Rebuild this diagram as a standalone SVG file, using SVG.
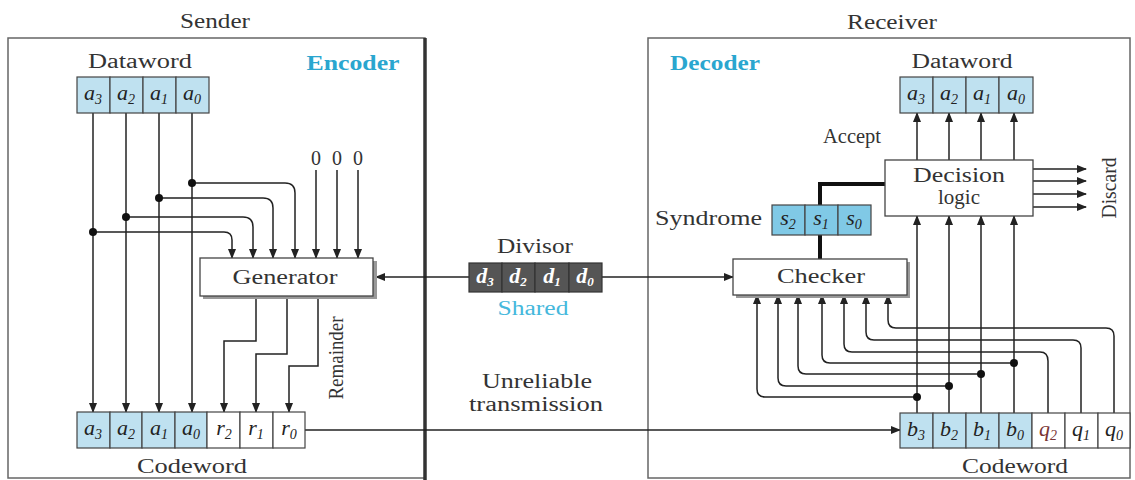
<svg xmlns="http://www.w3.org/2000/svg" width="1135" height="480" viewBox="0 0 1135 480">
<style>
text{font-family:"Liberation Serif","DejaVu Serif",serif;fill:#333;font-size:20px}
.c{text-anchor:middle}
.cy{fill:#2aa6cf;font-weight:bold}
.sh2{fill:#45b8dc}
.it{font-style:italic;font-size:22px;text-anchor:middle;fill:#222}
.sb{font-size:14px}
.wt{fill:#fff}
.cell{fill:#bfe1f0;stroke:#444;stroke-width:1.2}
.cellw{fill:#fff;stroke:#444;stroke-width:1.2}
.cells{fill:#80c9e6;stroke:#444;stroke-width:1.2}
.celld{fill:#555;stroke:#333;stroke-width:1.2}
.box{fill:#fff;stroke:#444;stroke-width:1.3}
.sh{fill:#999}
.ln{fill:none;stroke:#222;stroke-width:1.5}
.dot{fill:#111}
</style>
<defs>
<marker id="ar" markerUnits="userSpaceOnUse" markerWidth="10" markerHeight="8" refX="9" refY="4" orient="auto">
<path d="M0,0 L10,4 L0,8 Z" fill="#222"/>
</marker>
</defs>

<g id="sender-panel">
<rect x="8" y="38" width="417" height="440" fill="none" stroke="#666" stroke-width="1.5"/>
<line x1="425" y1="38" x2="425" y2="480" stroke="#333" stroke-width="3.5"/>
<text class="c" x="215" y="28" textLength="70" lengthAdjust="spacingAndGlyphs">Sender</text>
<text class="cy c" x="353" y="70" textLength="93" lengthAdjust="spacingAndGlyphs">Encoder</text>
</g>

<g id="receiver-panel">
<rect x="648" y="38" width="482" height="440" fill="none" stroke="#666" stroke-width="1.5"/>
<text class="c" x="892" y="29" textLength="90" lengthAdjust="spacingAndGlyphs">Receiver</text>
<text class="cy c" x="715" y="70" textLength="90" lengthAdjust="spacingAndGlyphs">Decoder</text>
</g>

<g id="connectors">
<path class="ln" d="M93,113 V412" marker-end="url(#ar)"/>
<path class="ln" d="M126,113 V412" marker-end="url(#ar)"/>
<path class="ln" d="M159,113 V412" marker-end="url(#ar)"/>
<path class="ln" d="M192,113 V412" marker-end="url(#ar)"/>
<path class="ln" d="M192,183 H285 Q295,183 295,193 V258" marker-end="url(#ar)"/>
<path class="ln" d="M159,198 H263 Q273,198 273,208 V258" marker-end="url(#ar)"/>
<path class="ln" d="M126,217 H243 Q253,217 253,227 V258" marker-end="url(#ar)"/>
<path class="ln" d="M93,232 H224 Q232,232 232,240 V258" marker-end="url(#ar)"/>
<path class="ln" d="M316,170 V258" marker-end="url(#ar)"/>
<path class="ln" d="M337,170 V258" marker-end="url(#ar)"/>
<path class="ln" d="M358,170 V258" marker-end="url(#ar)"/>
<path class="ln" d="M256,296 V341 H224 V412" marker-end="url(#ar)"/>
<path class="ln" d="M287,296 V354 H256 V412" marker-end="url(#ar)"/>
<path class="ln" d="M318,296 V366 H289 V412" marker-end="url(#ar)"/>
<circle class="dot" cx="192" cy="183" r="4"/>
<circle class="dot" cx="159" cy="198" r="4"/>
<circle class="dot" cx="126" cy="217" r="4"/>
<circle class="dot" cx="93" cy="232" r="4"/>
<path class="ln" d="M305,430 H900" marker-end="url(#ar)"/>
<path class="ln" d="M469,277 H376" marker-end="url(#ar)"/>
<path class="ln" d="M602,277 H733" marker-end="url(#ar)"/>
<path d="M820,259 V184 H885" fill="none" stroke="#111" stroke-width="4"/>
<path class="ln" d="M917,160 V113" marker-end="url(#ar)"/>
<path class="ln" d="M949,160 V113" marker-end="url(#ar)"/>
<path class="ln" d="M981,160 V113" marker-end="url(#ar)"/>
<path class="ln" d="M1014,160 V113" marker-end="url(#ar)"/>
<path class="ln" d="M917,413 V216" marker-end="url(#ar)"/>
<path class="ln" d="M949,413 V216" marker-end="url(#ar)"/>
<path class="ln" d="M981,413 V216" marker-end="url(#ar)"/>
<path class="ln" d="M1014,413 V216" marker-end="url(#ar)"/>
<path class="ln" d="M917,397 H765 Q757,397 757,389 V295" marker-end="url(#ar)"/>
<path class="ln" d="M949,386 H786 Q778,386 778,378 V295" marker-end="url(#ar)"/>
<path class="ln" d="M981,374 H806 Q798,374 798,366 V295" marker-end="url(#ar)"/>
<path class="ln" d="M1014,363 H830 Q822,363 822,355 V295" marker-end="url(#ar)"/>
<path class="ln" d="M1048,413 V361 Q1048,352 1040,352 H852 Q844,352 844,344 V295" marker-end="url(#ar)"/>
<path class="ln" d="M1081,413 V348 Q1081,340 1073,340 H874 Q866,340 866,332 V295" marker-end="url(#ar)"/>
<path class="ln" d="M1114,413 V336 Q1114,328 1106,328 H896 Q888,328 888,320 V295" marker-end="url(#ar)"/>
<circle class="dot" cx="917" cy="397" r="4"/>
<circle class="dot" cx="949" cy="386" r="4"/>
<circle class="dot" cx="981" cy="374" r="4"/>
<circle class="dot" cx="1014" cy="363" r="4"/>
<path class="ln" d="M1033,169 H1086" marker-end="url(#ar)"/>
<path class="ln" d="M1033,181 H1086" marker-end="url(#ar)"/>
<path class="ln" d="M1033,194 H1086" marker-end="url(#ar)"/>
<path class="ln" d="M1033,207 H1086" marker-end="url(#ar)"/>
</g>

<g id="dataword-left">
<text class="c" x="140" y="68" textLength="104" lengthAdjust="spacingAndGlyphs">Dataword</text>
<rect class="cell" x="77" y="77" width="33" height="36"/>
<rect class="cell" x="110" y="77" width="33" height="36"/>
<rect class="cell" x="143" y="77" width="33" height="36"/>
<rect class="cell" x="176" y="77" width="33" height="36"/>
<text class="it" x="93" y="100">a<tspan class="sb" dy="4">3</tspan></text>
<text class="it" x="126" y="100">a<tspan class="sb" dy="4">2</tspan></text>
<text class="it" x="159" y="100">a<tspan class="sb" dy="4">1</tspan></text>
<text class="it" x="192" y="100">a<tspan class="sb" dy="4">0</tspan></text>
</g>

<g id="zeros">
<text class="c" x="316" y="165" font-size="19">0</text>
<text class="c" x="337" y="165" font-size="19">0</text>
<text class="c" x="358" y="165" font-size="19">0</text>
</g>

<g id="generator">
<rect class="sh" x="203" y="261" width="174" height="38"/>
<rect class="box" x="200" y="258" width="173" height="38"/>
<text class="c" x="285" y="284" textLength="105" lengthAdjust="spacingAndGlyphs">Generator</text>
<text class="c" x="0" y="0" font-size="19" transform="translate(343,358) rotate(-90)" textLength="83" lengthAdjust="spacingAndGlyphs">Remainder</text>
</g>

<g id="codeword-left">
<rect class="cell" x="77" y="412" width="33" height="36"/>
<rect class="cell" x="110" y="412" width="32" height="36"/>
<rect class="cell" x="142" y="412" width="33" height="36"/>
<rect class="cell" x="175" y="412" width="32" height="36"/>
<rect class="cellw" x="207" y="412" width="33" height="36"/>
<rect class="cellw" x="240" y="412" width="33" height="36"/>
<rect class="cellw" x="273" y="412" width="32" height="36"/>
<text class="it" x="93" y="435">a<tspan class="sb" dy="4">3</tspan></text>
<text class="it" x="126" y="435">a<tspan class="sb" dy="4">2</tspan></text>
<text class="it" x="159" y="435">a<tspan class="sb" dy="4">1</tspan></text>
<text class="it" x="191" y="435">a<tspan class="sb" dy="4">0</tspan></text>
<text class="it" x="224" y="435">r<tspan class="sb" dy="4">2</tspan></text>
<text class="it" x="256" y="435">r<tspan class="sb" dy="4">1</tspan></text>
<text class="it" x="289" y="435">r<tspan class="sb" dy="4">0</tspan></text>
<text class="c" x="192" y="473" textLength="110" lengthAdjust="spacingAndGlyphs">Codeword</text>
</g>

<g id="divisor">
<text class="c" x="535" y="253" textLength="76" lengthAdjust="spacingAndGlyphs">Divisor</text>
<rect class="celld" x="469" y="263" width="33" height="29"/>
<rect class="celld" x="502" y="263" width="33" height="29"/>
<rect class="celld" x="535" y="263" width="34" height="29"/>
<rect class="celld" x="569" y="263" width="33" height="29"/>
<text class="it wt" x="485" y="283" font-weight="bold" font-size="20">d<tspan font-size="13" dy="3">3</tspan></text>
<text class="it wt" x="518" y="283" font-weight="bold" font-size="20">d<tspan font-size="13" dy="3">2</tspan></text>
<text class="it wt" x="552" y="283" font-weight="bold" font-size="20">d<tspan font-size="13" dy="3">1</tspan></text>
<text class="it wt" x="585" y="283" font-weight="bold" font-size="20">d<tspan font-size="13" dy="3">0</tspan></text>
<text class="c sh2" x="533" y="315" textLength="71" lengthAdjust="spacingAndGlyphs">Shared</text>
</g>

<g id="transmission-label">
<text class="c" x="537" y="388" textLength="110" lengthAdjust="spacingAndGlyphs">Unreliable</text>
<text class="c" x="536" y="411" textLength="134" lengthAdjust="spacingAndGlyphs">transmission</text>
</g>

<g id="dataword-right">
<text class="c" x="962" y="68" textLength="101" lengthAdjust="spacingAndGlyphs">Dataword</text>
<rect class="cell" x="900" y="77" width="33" height="36"/>
<rect class="cell" x="933" y="77" width="33" height="36"/>
<rect class="cell" x="966" y="77" width="33" height="36"/>
<rect class="cell" x="999" y="77" width="34" height="36"/>
<text class="it" x="916" y="100">a<tspan class="sb" dy="4">3</tspan></text>
<text class="it" x="949" y="100">a<tspan class="sb" dy="4">2</tspan></text>
<text class="it" x="982" y="100">a<tspan class="sb" dy="4">1</tspan></text>
<text class="it" x="1016" y="100">a<tspan class="sb" dy="4">0</tspan></text>
<text class="c" x="852" y="143" textLength="58" lengthAdjust="spacingAndGlyphs">Accept</text>
</g>

<g id="decision-logic">
<rect class="box" x="885" y="160" width="148" height="56"/>
<text class="c" x="959" y="182" textLength="92" lengthAdjust="spacingAndGlyphs">Decision</text>
<text class="c" x="959" y="204" textLength="42" lengthAdjust="spacingAndGlyphs">logic</text>
<text class="c" x="0" y="0" font-size="19" transform="translate(1116,188) rotate(-90)" textLength="61" lengthAdjust="spacingAndGlyphs">Discard</text>
</g>

<g id="syndrome">
<text x="762" y="225" text-anchor="end" textLength="107" lengthAdjust="spacingAndGlyphs">Syndrome</text>
<rect class="cells" x="772" y="205" width="33" height="30"/>
<rect class="cells" x="805" y="205" width="33" height="30"/>
<rect class="cells" x="838" y="205" width="33" height="30"/>
<text class="it" x="788" y="225">s<tspan class="sb" dy="4">2</tspan></text>
<text class="it" x="821" y="225">s<tspan class="sb" dy="4">1</tspan></text>
<text class="it" x="854" y="225">s<tspan class="sb" dy="4">0</tspan></text>
</g>

<g id="checker">
<rect class="sh" x="736" y="262" width="174" height="36"/>
<rect class="box" x="733" y="259" width="174" height="36"/>
<text class="c" x="821" y="283" textLength="88" lengthAdjust="spacingAndGlyphs">Checker</text>
</g>

<g id="codeword-right">
<rect class="cell" x="900" y="413" width="33" height="35"/>
<rect class="cell" x="933" y="413" width="33" height="35"/>
<rect class="cell" x="966" y="413" width="33" height="35"/>
<rect class="cell" x="999" y="413" width="33" height="35"/>
<rect class="cellw" x="1032" y="413" width="33" height="35"/>
<rect class="cellw" x="1065" y="413" width="33" height="35"/>
<rect class="cellw" x="1098" y="413" width="32" height="35"/>
<text class="it" x="916" y="436">b<tspan class="sb" dy="4">3</tspan></text>
<text class="it" x="949" y="436">b<tspan class="sb" dy="4">2</tspan></text>
<text class="it" x="982" y="436">b<tspan class="sb" dy="4">1</tspan></text>
<text class="it" x="1015" y="436">b<tspan class="sb" dy="4">0</tspan></text>
<text class="it" x="1048" y="436" style="fill:#7a3535">q<tspan class="sb" dy="4">2</tspan></text>
<text class="it" x="1081" y="436">q<tspan class="sb" dy="4">1</tspan></text>
<text class="it" x="1114" y="436">q<tspan class="sb" dy="4">0</tspan></text>
<text class="c" x="1015" y="473" textLength="106" lengthAdjust="spacingAndGlyphs">Codeword</text>
</g>
</svg>
